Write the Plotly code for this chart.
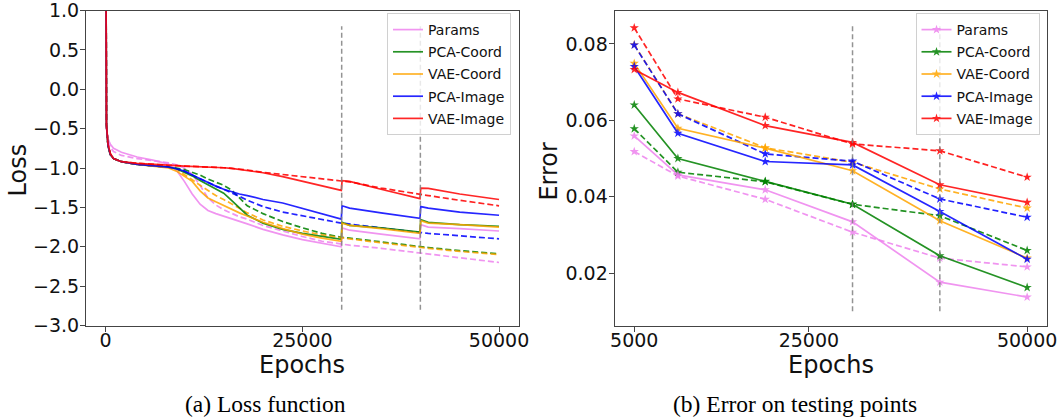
import plotly.graph_objects as go

# ---------------- data: (a) loss curves ----------------
epochs = [0, 100, 300, 600, 1000, 2000, 4000, 6000, 8000, 9000, 10000, 11000, 12000,
          13000, 14000, 15000, 16000, 17000, 18000, 20000, 22500, 25000, 27500, 29950,
          30050, 31000, 35000, 39950, 40050, 41000, 45000, 50000]

params_solid = [3.0, -0.50, -0.63, -0.70, -0.75, -0.80, -0.86, -0.90, -0.95, -1.03, -1.17, -1.33, -1.46,
                -1.54, -1.58, -1.61, -1.64, -1.68, -1.71, -1.78, -1.85, -1.91, -1.96, -2.00,
                -1.76, -1.79, -1.84, -1.90, -1.72, -1.75, -1.77, -1.80]
params_dash = [3.0, -0.50, -0.66, -0.74, -0.79, -0.84, -0.88, -0.91, -0.935, -0.96, -1.00, -1.08, -1.22,
               -1.38, -1.47, -1.53, -1.58, -1.62, -1.65, -1.73, -1.80, -1.87, -1.93, -1.97,
               -1.97, -1.98, -2.02, -2.08, -2.08, -2.09, -2.14, -2.20]
pcacoord_solid = [3.0, -0.45, -0.72, -0.83, -0.88, -0.92, -0.955, -0.975, -0.99, -1.01, -1.05, -1.10, -1.16,
                  -1.21, -1.26, -1.32, -1.41, -1.50, -1.60, -1.70, -1.78, -1.83, -1.87, -1.905,
                  -1.69, -1.73, -1.76, -1.815, -1.655, -1.69, -1.72, -1.74]
pcacoord_dash = [3.0, -0.45, -0.72, -0.83, -0.88, -0.92, -0.955, -0.975, -0.99, -1.00, -1.02, -1.05, -1.09,
                 -1.14, -1.18, -1.22, -1.28, -1.38, -1.48, -1.58, -1.68, -1.76, -1.83, -1.88,
                 -1.88, -1.89, -1.94, -2.00, -2.00, -2.01, -2.05, -2.09]
vaecoord_solid = [3.0, -0.45, -0.72, -0.83, -0.88, -0.92, -0.955, -0.975, -1.00, -1.04, -1.10, -1.17, -1.29,
                  -1.38, -1.43, -1.48, -1.52, -1.57, -1.61, -1.69, -1.77, -1.84, -1.89, -1.93,
                  -1.70, -1.73, -1.77, -1.83, -1.67, -1.70, -1.72, -1.75]
vaecoord_dash = [3.0, -0.45, -0.72, -0.83, -0.88, -0.92, -0.955, -0.975, -0.99, -1.02, -1.08, -1.15, -1.22,
                 -1.29, -1.35, -1.40, -1.45, -1.51, -1.57, -1.66, -1.74, -1.80, -1.85, -1.89,
                 -1.89, -1.90, -1.95, -2.01, -2.01, -2.02, -2.06, -2.10]
pcaimage_solid = [3.0, -0.45, -0.72, -0.83, -0.88, -0.92, -0.955, -0.975, -0.99, -1.01, -1.04, -1.09, -1.14,
                  -1.19, -1.23, -1.27, -1.30, -1.33, -1.35, -1.40, -1.445, -1.515, -1.59, -1.65,
                  -1.48, -1.51, -1.57, -1.64, -1.49, -1.51, -1.56, -1.60]
pcaimage_dash = [3.0, -0.45, -0.72, -0.83, -0.88, -0.92, -0.955, -0.975, -0.99, -1.01, -1.04, -1.09, -1.14,
                 -1.19, -1.23, -1.27, -1.31, -1.36, -1.41, -1.49, -1.56, -1.61, -1.66, -1.70,
                 -1.70, -1.71, -1.76, -1.82, -1.82, -1.83, -1.86, -1.90]
vaeimage_solid = [3.0, -0.45, -0.70, -0.82, -0.88, -0.92, -0.94, -0.955, -0.965, -0.97, -0.975, -0.978, -0.98,
                  -0.985, -0.99, -0.997, -1.005, -1.017, -1.03, -1.06, -1.11, -1.17, -1.23, -1.285,
                  -1.16, -1.17, -1.27, -1.39, -1.255, -1.26, -1.33, -1.40]
vaeimage_dash = [3.0, -0.45, -0.70, -0.82, -0.88, -0.92, -0.94, -0.955, -0.965, -0.97, -0.975, -0.978, -0.98,
                 -0.985, -0.99, -0.997, -1.005, -1.015, -1.025, -1.055, -1.085, -1.11, -1.14, -1.165,
                 -1.165, -1.175, -1.255, -1.34, -1.34, -1.35, -1.41, -1.48]

# ---------------- data: (b) testing error ----------------
test_epochs = [5000, 10000, 20000, 30000, 40000, 50000]
err_params_solid = [0.0559, 0.0457, 0.0418, 0.0334, 0.0176, 0.0137]
err_params_dash = [0.0518, 0.0454, 0.0393, 0.0307, 0.0239, 0.0216]
err_pcacoord_solid = [0.0640, 0.0500, 0.0440, 0.0380, 0.0245, 0.0162]
err_pcacoord_dash = [0.0578, 0.0464, 0.0439, 0.0380, 0.0350, 0.0259]
err_vaecoord_solid = [0.0749, 0.0579, 0.0527, 0.0468, 0.0337, 0.0239]
err_vaecoord_dash = [0.0798, 0.0617, 0.0528, 0.0490, 0.0420, 0.0370]
err_pcaimage_solid = [0.0741, 0.0566, 0.0492, 0.0483, 0.0361, 0.0236]
err_pcaimage_dash = [0.0797, 0.0617, 0.0512, 0.0493, 0.0394, 0.0346]
err_vaeimage_solid = [0.0733, 0.0673, 0.0586, 0.0542, 0.0431, 0.0385]
err_vaeimage_dash = [0.0842, 0.0656, 0.0608, 0.0538, 0.0520, 0.0451]

names = ["Params", "PCA-Coord", "VAE-Coord", "PCA-Image", "VAE-Image"]
colors = ["#EE82EE", "#008000", "#FFA500", "#0000FF", "#FF0000"]

vline_x = [30000, 40000]
vline_loss = [-2.8, 0.8]
vline_err = [0.01, 0.085]

loss_ticks = [-3.0, -2.5, -2.0, -1.5, -1.0, -0.5, 0.0, 0.5, 1.0]
loss_ticktext = ["\u22123.0", "\u22122.5", "\u22122.0", "\u22121.5", "\u22121.0", "\u22120.5", "0.0", "0.5", "1.0"]
err_ticks = [0.02, 0.04, 0.06, 0.08]
err_ticktext = ["0.02", "0.04", "0.06", "0.08"]
loss_xticks = [0, 25000, 50000]
err_xticks = [5000, 25000, 50000]

loss_solid = [params_solid, pcacoord_solid, vaecoord_solid, pcaimage_solid, vaeimage_solid]
loss_dash = [params_dash, pcacoord_dash, vaecoord_dash, pcaimage_dash, vaeimage_dash]
err_solid = [err_params_solid, err_pcacoord_solid, err_vaecoord_solid, err_pcaimage_solid, err_vaeimage_solid]
err_dash = [err_params_dash, err_pcacoord_dash, err_vaecoord_dash, err_pcaimage_dash, err_vaeimage_dash]

FONT = "DejaVu Sans"
LW = 1.7
DASH = "6px,3px"
OP = 0.85

fig = go.Figure()

# left panel
for i in range(5):
    fig.add_trace(go.Scatter(x=epochs, y=loss_dash[i], mode="lines", opacity=OP,
                             line=dict(color=colors[i], width=LW, dash=DASH),
                             showlegend=False, xaxis="x", yaxis="y", hoverinfo="skip"))
for i in range(5):
    fig.add_trace(go.Scatter(x=epochs, y=loss_solid[i], mode="lines", opacity=OP, name=names[i],
                             line=dict(color=colors[i], width=LW), legend="legend",
                             legendgroup="a" + str(i), xaxis="x", yaxis="y"))
for vx in vline_x:
    fig.add_trace(go.Scatter(x=[vx, vx], y=vline_loss, mode="lines", showlegend=False,
                             line=dict(color="rgba(128,128,128,0.85)", width=1.5, dash="5px,3px"),
                             xaxis="x", yaxis="y", hoverinfo="skip"))

# right panel
for i in range(5):
    fig.add_trace(go.Scatter(x=test_epochs, y=err_dash[i], mode="lines+markers", opacity=OP,
                             line=dict(color=colors[i], width=LW, dash=DASH),
                             marker=dict(symbol="star", size=7, color=colors[i]),
                             showlegend=False, xaxis="x2", yaxis="y2", hoverinfo="skip"))
for i in range(5):
    fig.add_trace(go.Scatter(x=test_epochs, y=err_solid[i], mode="lines+markers", opacity=OP,
                             name=names[i], line=dict(color=colors[i], width=LW),
                             marker=dict(symbol="star", size=7, color=colors[i]),
                             legend="legend2", legendgroup="b" + str(i), xaxis="x2", yaxis="y2"))
for vx in vline_x:
    fig.add_trace(go.Scatter(x=[vx, vx], y=vline_err, mode="lines", showlegend=False,
                             line=dict(color="rgba(128,128,128,0.85)", width=1.5, dash="5px,3px"),
                             xaxis="x2", yaxis="y2", hoverinfo="skip"))

W, H = 1061, 418
ydom = [1 - 325.5 / H, 1 - 10.5 / H]
axis_common = dict(showline=True, mirror=True, linecolor="#444", linewidth=1, ticks="outside",
                   ticklen=5, tickwidth=1, tickcolor="#444", showgrid=False, zeroline=False,
                   automargin=False, ticklabeloverflow="allow",
                   tickfont=dict(family=FONT, size=19, color="#111"))

legend_common = dict(font=dict(family=FONT, size=14, color="#111"), bgcolor="rgba(255,255,255,0.8)",
                     bordercolor="#d0d0d0", borderwidth=1, itemwidth=30, tracegroupgap=1,
                     xanchor="right", yanchor="top", traceorder="grouped")

fig.update_layout(
    width=W, height=H, margin=dict(l=0, r=0, t=0, b=0, autoexpand=False),
    paper_bgcolor="white", plot_bgcolor="white", showlegend=True,
    xaxis=dict(domain=[86 / W, 518.7 / W], range=[-2500, 52500], tickvals=loss_xticks,
               ticktext=[str(v) for v in loss_xticks], anchor="y", ticklabelstandoff=-7, **axis_common),
    yaxis=dict(domain=ydom, range=[-3.0005, 1.0005], tickvals=loss_ticks, ticktext=loss_ticktext,
               anchor="x", ticklabelstandoff=-3, **axis_common),
    xaxis2=dict(domain=[614.6 / W, 1046.8 / W], range=[2750, 52250], tickvals=err_xticks,
                ticktext=[str(v) for v in err_xticks], anchor="y2", ticklabelstandoff=-7, **axis_common),
    yaxis2=dict(domain=ydom, range=[0.00625, 0.08875], tickvals=err_ticks, ticktext=err_ticktext,
                anchor="x2", ticklabelstandoff=-3, **axis_common),
    legend=dict(x=511 / W, y=1 - 13 / H, **legend_common),
    legend2=dict(x=1039.5 / W, y=1 - 13 / H, **legend_common),
)

ann = [
    dict(text="Loss", x=17 / W, y=1 - 170.5 / H, textangle=-90, font=dict(family=FONT, size=24, color="#111")),
    dict(text="Error", x=548.6 / W, y=1 - 171 / H, textangle=-90, font=dict(family=FONT, size=24, color="#111")),
    dict(text="Epochs", x=302.3 / W, y=1 - 365 / H, font=dict(family=FONT, size=24, color="#111")),
    dict(text="Epochs", x=830.7 / W, y=1 - 365 / H, font=dict(family=FONT, size=24, color="#111")),
    dict(text="(a) Loss function", x=265.5 / W, y=1 - 404 / H,
         font=dict(family="Liberation Serif", size=23.5, color="black")),
    dict(text="(b) Error on testing points", x=794.5 / W, y=1 - 404 / H,
         font=dict(family="Liberation Serif", size=23.5, color="black")),
]
for a in ann:
    fig.add_annotation(xref="paper", yref="paper", showarrow=False, xanchor="center", yanchor="middle", **a)

fig.write_html("out.html")
